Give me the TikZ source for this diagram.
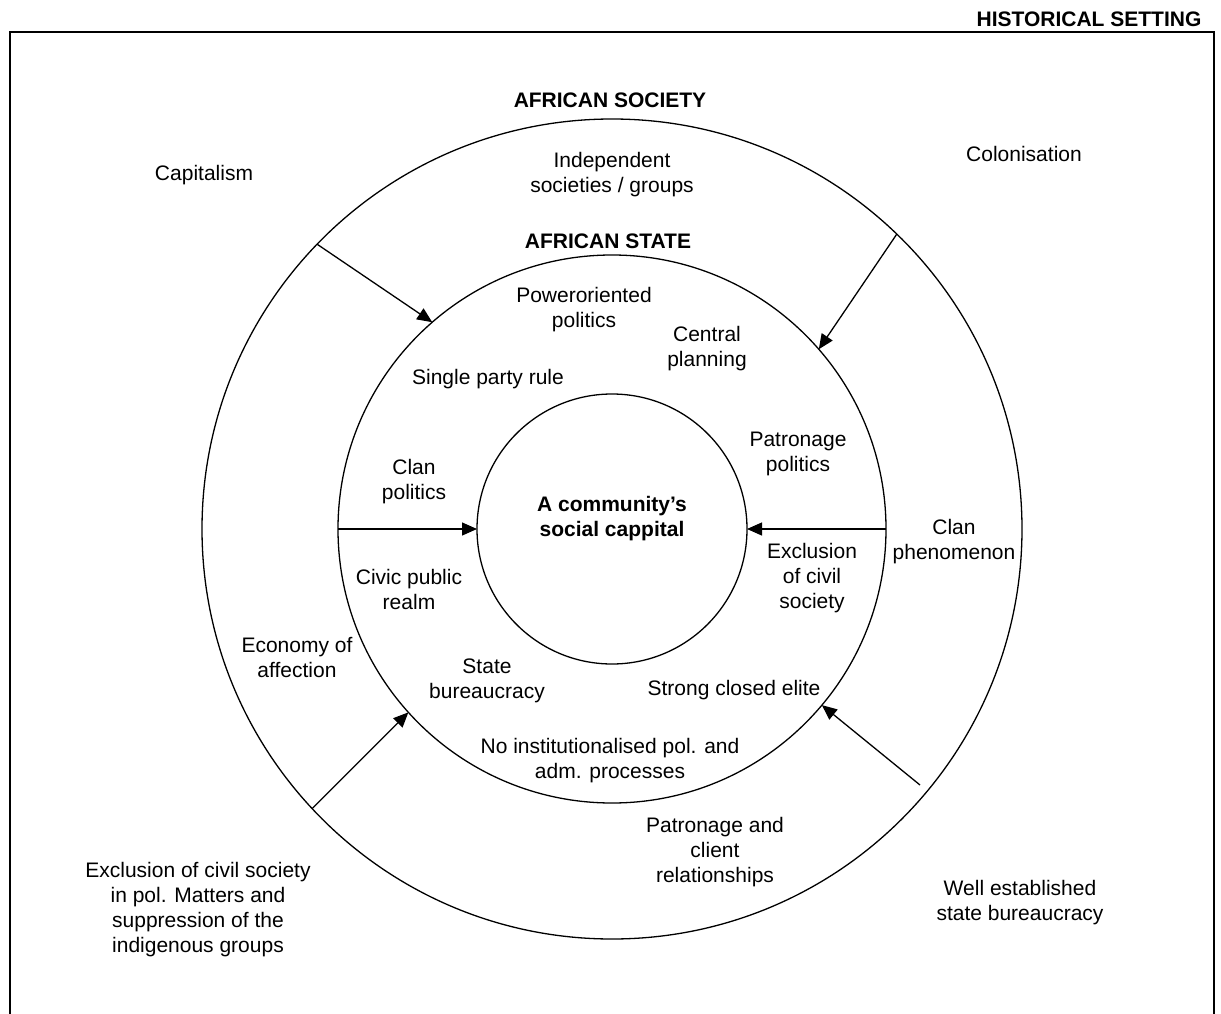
\documentclass[tikz,border=0pt]{standalone}
\usepackage{fontspec}
\setmainfont{Liberation Sans}
\usetikzlibrary{arrows.meta}
\begin{document}
\begin{tikzpicture}[x=1pt,y=-1pt,
  ring/.style={circle,draw,line width=1.3pt,inner sep=0pt,outer sep=0pt},
  lbl/.style={align=center,font=\fontsize{21}{25}\selectfont,inner sep=0pt},
  hd/.style={align=center,font=\fontsize{21}{25}\selectfont\bfseries,inner sep=0pt},
  arr/.style={line width=1.3pt,-{Triangle[length=15pt,width=13pt]}}]
\useasboundingbox (0,0) rectangle (1221,1014);
\draw[line width=1.3pt] (10,1014) -- (10,32) -- (1214,32) -- (1214,1014);
\node[ring,minimum size=820pt] (outer) at (612,529) {};
\node[ring,minimum size=548pt] (mid) at (612,529) {};
\node[ring,minimum size=270pt] (inner) at (612,529) {};
\coordinate (lrstart) at (920,785);
\draw[arr] (outer.136) -- (mid.131);
\draw[arr] (outer.46.4) -- (mid.41.9);
\draw[arr] (outer.223.4) -- (mid.222.9);
\draw[arr] (lrstart) -- (mid.-40.8);
\draw[arr] (mid.180) -- (inner.180);
\draw[arr] (mid.0) -- (inner.0);
\node[hd] (hist) at (1089,19) {HISTORICAL SETTING};
\node[hd] (soc) at (610,100) {AFRICAN SOCIETY};
\node[lbl] (indep) at (612,175) {Independent\\societies / groups};
\node[hd] (state) at (608,241) {AFRICAN STATE};
\node[lbl] (cap) at (204,175) {Capitalism};
\node[lbl] (colon) at (1024,154) {Colonisation};
\node[lbl] (power) at (584,310) {Poweroriented\\politics};
\node[lbl] (central) at (707,349) {Central\\planning};
\node[lbl] (single) at (488,379) {Single party rule};
\node[lbl] (patpol) at (798,454) {Patronage\\politics};
\node[lbl] (clanpol) at (414,482) {Clan\\politics};
\node[hd] (core) at (612,519) {A community’s\\social cappital};
\node[lbl] (excl) at (812,578) {Exclusion\\of civil\\society};
\node[lbl] (clanph) at (954,542) {Clan\\phenomenon};
\node[lbl] (civic) at (409,589) {Civic public\\realm};
\node[lbl] (econ) at (297,657) {Economy of\\affection};
\node[lbl] (statebur) at (487,681) {State\\bureaucracy};
\node[lbl] (elite) at (734,690) {Strong closed elite};
\node[lbl] (noinst) at (610,761) {No institutionalised pol. and\\adm. processes};
\node[lbl] (patcl) at (715,852) {Patronage and\\client\\relationships};
\node[lbl] (exclpol) at (198,910) {Exclusion of civil society\\in pol. Matters and\\suppression of the\\indigenous groups};
\node[lbl] (well) at (1020,903) {Well established\\state bureaucracy};
\end{tikzpicture}
\end{document}
